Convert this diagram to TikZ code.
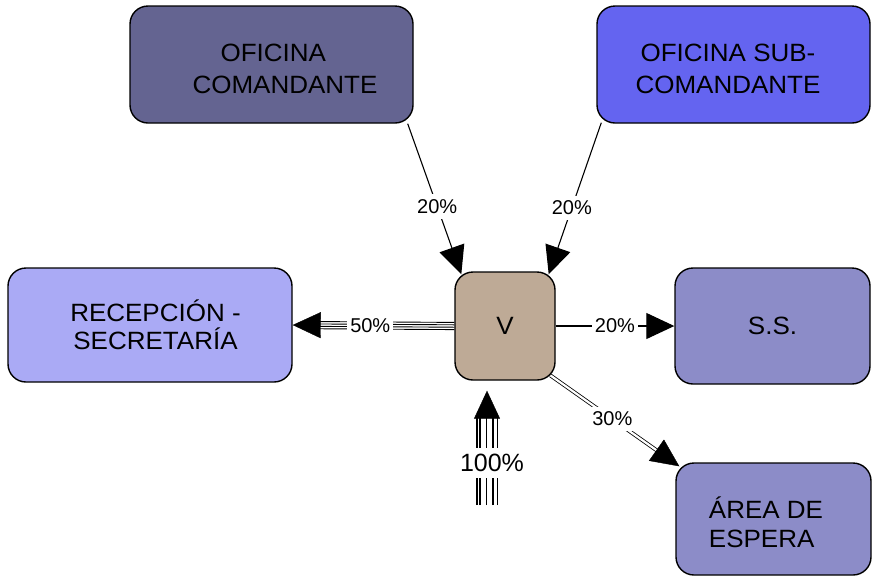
\documentclass[tikz,border=0pt]{standalone}
\usepackage{fontspec}
\setmainfont{Liberation Sans}
\newfontfamily\boxfont[FakeStretch=1.04]{Liberation Sans}
\usetikzlibrary{arrows.meta,calc,decorations.markings}
\definecolor{ocfill}{RGB}{100,100,145}
\definecolor{osfill}{RGB}{100,100,240}
\definecolor{rsfill}{RGB}{170,170,245}
\definecolor{ssfill}{RGB}{140,140,200}
\definecolor{vfill}{RGB}{190,170,150}
\begin{document}
\begin{tikzpicture}[x=1pt,y=-1pt,
  box/.style={draw=black, line width=1.4pt, rounded corners=18pt, inner sep=0pt,
    font=\boxfont\fontsize{25}{32}\selectfont, align=center},
  boxtight/.style={font=\boxfont\fontsize{25}{28.5}\selectfont},
  conn/.style={line width=1.1pt},
  multi/.style={line width=0.9pt},
  lbl/.style={fill=white, inner xsep=3pt, inner ysep=5pt, font=\fontsize{20}{24}\selectfont},
  bigtip/.style={-{Triangle[length=28pt,width=26pt]}},
  tipmark/.style={postaction={decorate}, decoration={markings,
    mark=at position 1 with {\arrow{Triangle[length=28pt,width=26pt]}}}},
]
\useasboundingbox (0,0) rectangle (872,582);

% boxes
\node[box, fill=ocfill, minimum width=283pt, minimum height=117pt, align=left] (OC) at (271.5,64.5)
  {\rule{0pt}{27pt}\hspace*{55pt}OFICINA\\\hspace*{27pt}COMANDANTE};
\node[box, fill=osfill, minimum width=273pt, minimum height=117pt] (OS) at (733.5,64.5)
  {\rule{0pt}{26pt}OFICINA SUB-\hspace*{11pt}\\COMANDANTE\hspace*{11pt}};
\node[box, boxtight, fill=rsfill, minimum width=284pt, minimum height=114pt] (RS) at (150,325)
  {\hspace*{11pt}RECEPCIÓN -\\\hspace*{11pt}SECRETARÍA};
\node[box, fill=vfill, minimum width=100pt, minimum height=108pt] (V) at (505,326) {V};
\node[box, fill=ssfill, minimum width=195pt, minimum height=116pt] (SS) at (772.5,326) {S.S.};
\node[box, boxtight, fill=ssfill, minimum width=195pt, minimum height=112pt, align=left] (AE) at (773.5,519)
  {\rule{0pt}{28pt}ÁREA DE\hspace*{15pt}\\ESPERA};

% OC -> V
\coordinate (a1) at ($(OC.south east)+(-6,0)$);
\coordinate (a2) at ($(V.north west)+(7,3)$);
\draw[conn,bigtip] (a1) -- node[lbl,pos=0.55]{20\%} (a2);

% OS -> V
\coordinate (b1) at ($(OS.south west)+(5,-1)$);
\coordinate (b2) at ($(V.north east)+(-7,3)$);
\draw[conn,bigtip] (b1) -- node[lbl,pos=0.56]{20\%} (b2);

% V -> RS (50%)
\foreach \d in {-3.6,-1.2,1.2,3.6}{
  \draw[multi, shorten >=26pt, transform canvas={yshift=\d pt}] (V.west) -- (RS.east);
}
\path[tipmark] (V.west) -- node[lbl,pos=0.52]{50\%} (RS.east);

% V -> SS (20%)
\draw[conn,bigtip] (V.east) -- node[lbl,pos=0.5]{20\%} (SS.west);

% V -> AE (30%)
\coordinate (c1) at ($(V.south east)+(-5.3,-5.3)$);
\coordinate (c2) at ($(AE.north west)+(4,4)$);
\draw[double=white, double distance=2.2pt, line width=0.8pt, shorten >=26pt] (c1) -- (c2);
\path[tipmark] (c1) -- node[lbl,pos=0.48]{30\%} (c2);

% 100% -> V
\coordinate (src) at (487,505);
\coordinate (d2) at ($(V.south)+(-18,10)$);
\foreach \d in {-10,-7,-0.5,6,10.5}{
  \draw[line width=1.1pt, shorten >=26pt, transform canvas={xshift=\d pt}] (src) -- (d2);
}
\path[tipmark] (src) -- node[lbl,pos=0.37,xshift=5pt,inner ysep=6pt,font=\fontsize{25}{30}\selectfont]{100\%} (d2);
\end{tikzpicture}
\end{document}
